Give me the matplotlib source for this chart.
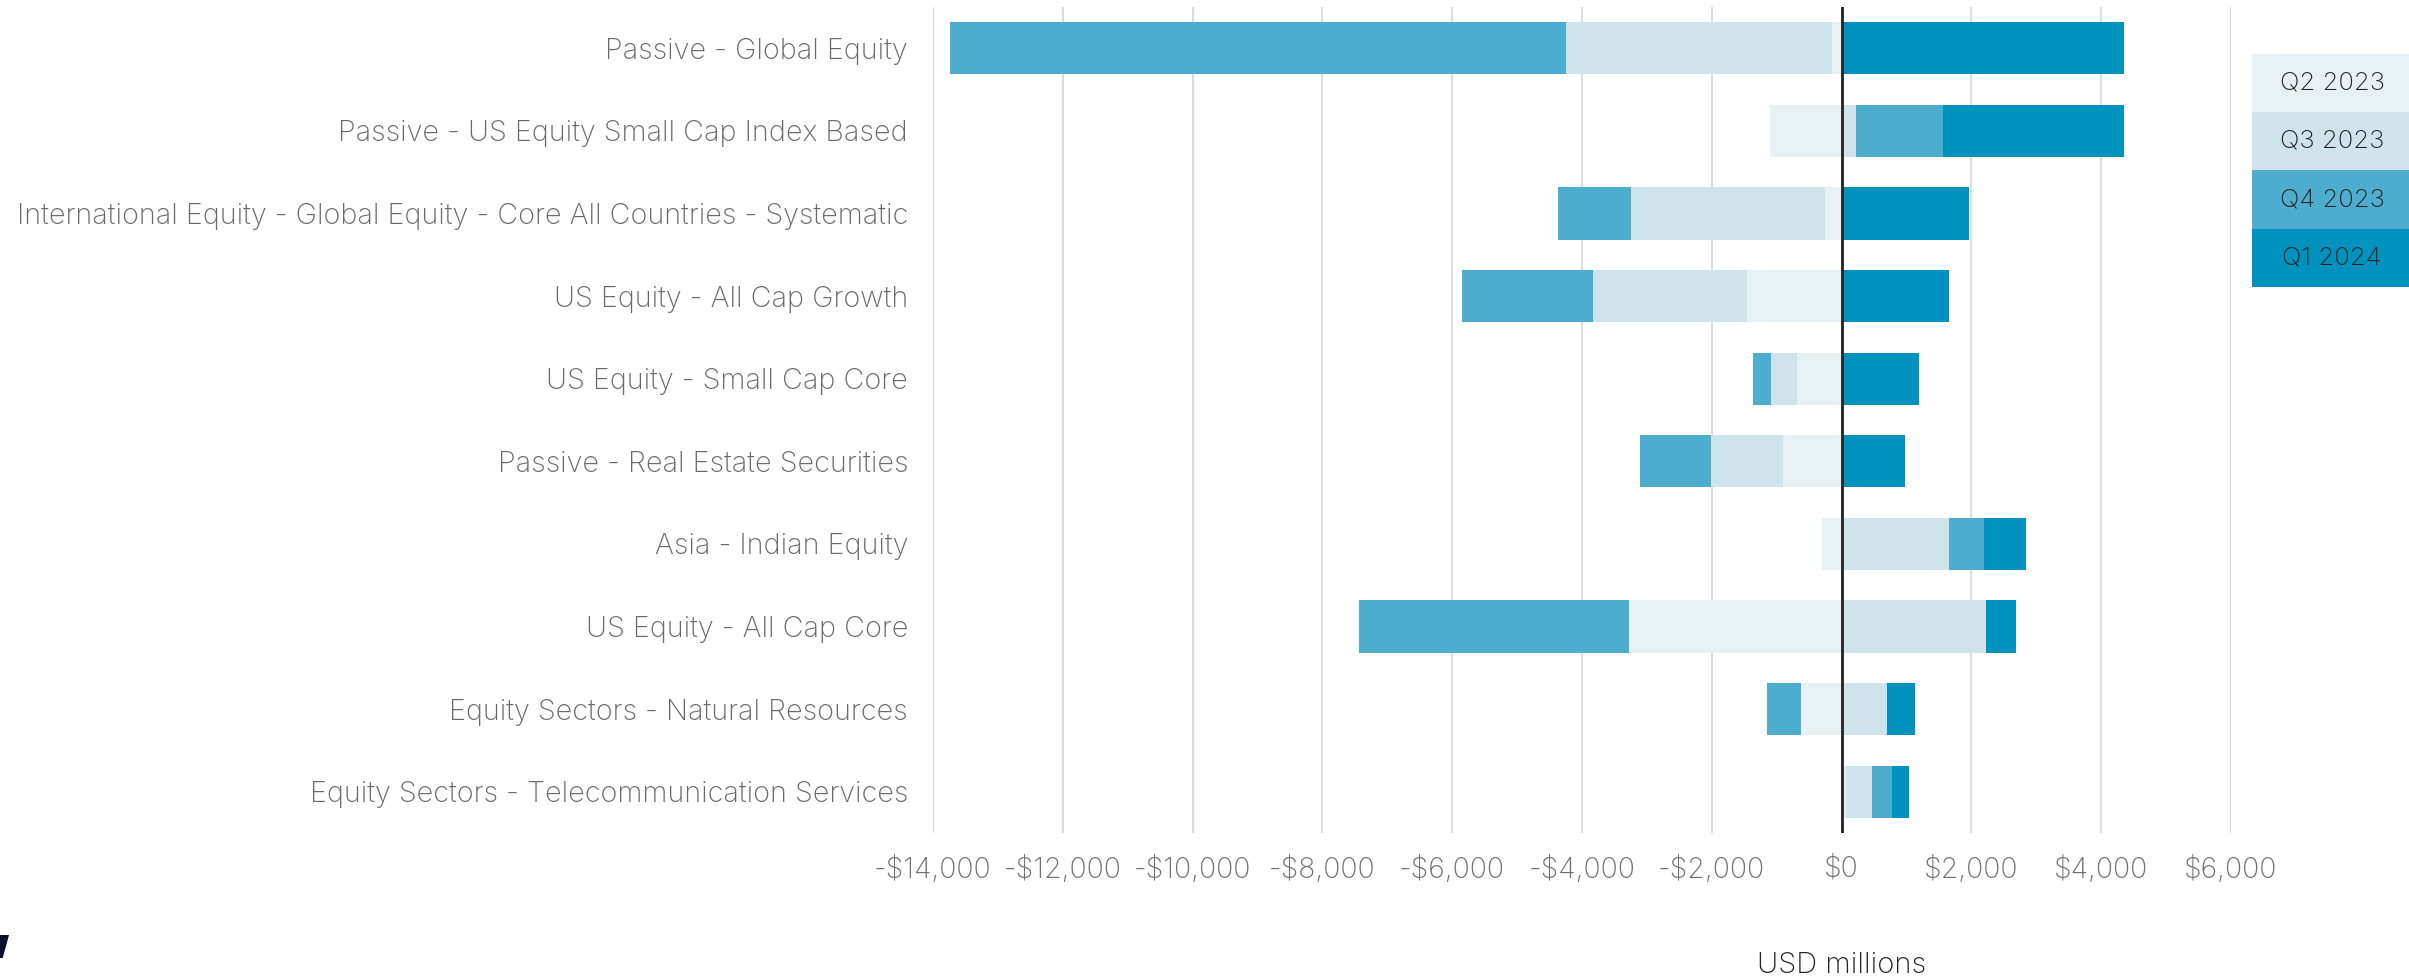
import matplotlib
matplotlib.use("Agg")
import matplotlib.pyplot as plt
from matplotlib.patches import Rectangle, Polygon
from matplotlib.ticker import FuncFormatter
import numpy as np

plt.rcParams['font.family'] = ['Inter', 'DejaVu Sans']

# strategies, top to bottom
categories = [
    "Passive - Global Equity",
    "Passive - US Equity Small Cap Index Based",
    "International Equity - Global Equity - Core All Countries - Systematic",
    "US Equity - All Cap Growth",
    "US Equity - Small Cap Core",
    "Passive - Real Estate Securities",
    "Asia - Indian Equity",
    "US Equity - All Cap Core",
    "Equity Sectors - Natural Resources",
    "Equity Sectors - Telecommunication Services",
]

quarters = ["Q2 2023", "Q3 2023", "Q4 2023", "Q1 2024"]

# net flows, USD millions
q2_2023 = [-150, -1110, -260, -1460, -680, -910, -300, -3280, -630, 70]
q3_2023 = [-4090, 220, -2980, -2370, -410, -1110, 1650, 2220, 700, 400]
q4_2023 = [-9500, 1350, -1130, -2020, -280, -1080, 540, -4150, -520, 310]
q1_2024 = [4350, 2780, 1960, 1660, 1200, 970, 650, 460, 430, 260]

colors = ["#E7F0F3", "#CFE3EB", "#4DADCF", "#0092BE"]

W, H = 2409, 980
fig = plt.figure(figsize=(W / 100, H / 100), dpi=100)
ax = fig.add_axes([933 / W, 1 - 833 / H, 1298 / W, 826 / H])

y = np.arange(len(categories))
pos = np.zeros(len(categories))
neg = np.zeros(len(categories))
for vals, col in zip([q2_2023, q3_2023, q4_2023, q1_2024], colors):
    v = np.array(vals, dtype=float)
    left = np.where(v >= 0, pos, neg)
    ax.barh(y, v, left=left, height=0.63, color=col, linewidth=0, zorder=2)
    pos = pos + np.where(v >= 0, v, 0)
    neg = neg + np.where(v < 0, v, 0)

ax.set_xlim(-14000, 6000)
ax.set_ylim(len(categories) - 0.5, -0.5)
ax.set_xticks(np.arange(-14000, 6001, 2000))
ax.xaxis.set_major_formatter(FuncFormatter(
    lambda v, p: ("-$" if v < 0 else "$") + format(int(abs(v)), ",")))
ax.set_yticks(y)
ax.set_yticklabels(categories)

ax.grid(axis='x', color='#DDDDDD', linewidth=1.5, zorder=0)
ax.axvline(0, color='#222222', linewidth=2, zorder=3)
for s in ax.spines.values():
    s.set_visible(False)
ax.tick_params(axis='x', length=0, pad=16.5, labelsize=20.5, labelcolor='#707070')
ax.tick_params(axis='y', length=0, pad=18, labelsize=20.7, labelcolor='#6A6A6A')
for lab in ax.get_xticklabels() + ax.get_yticklabels():
    lab.set_fontweight('light')

ax.text(0, -0.16, "USD millions", transform=ax.get_xaxis_transform(),
        ha='center', va='center', fontsize=21, color='#222222',
        fontweight='light')

# legend as stacked coloured cells
for i, (q, col) in enumerate(zip(quarters, colors)):
    top = 54 + i * 58.2
    fig.patches.append(Rectangle((2252 / W, 1 - (top + 58.2) / H), 160 / W, 58.2 / H,
                                 transform=fig.transFigure, facecolor=col,
                                 edgecolor='none'))
    fig.text(2332 / W, 1 - (top + 29.1) / H, q, ha='center', va='center',
             fontsize=18.5, color='#222222', fontweight='light')

# logo fragment in the corner
fig.patches.append(Polygon([(0, 1 - 935 / H), (9 / W, 1 - 935 / H),
                            (2.7 / W, 1 - 958 / H), (0, 1 - 958 / H)],
                           closed=True, transform=fig.transFigure,
                           facecolor='#0B0F30', edgecolor='none'))

fig.savefig("out.png", dpi=100)
